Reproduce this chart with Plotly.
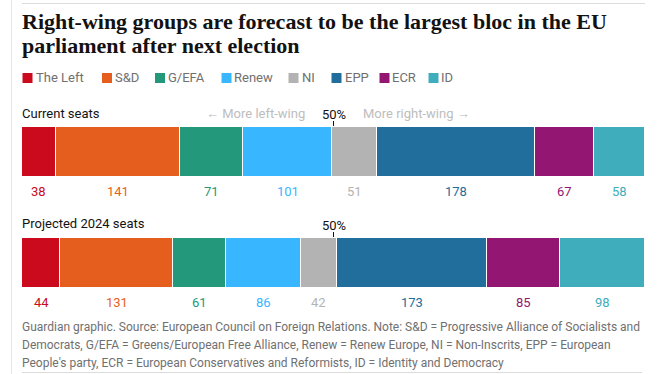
import plotly.graph_objects as go

groups = ["The Left", "S&D", "G/EFA", "Renew", "NI", "EPP", "ECR", "ID"]
colors = ["#cc0a1e", "#e65e1d", "#24987a", "#38b6ff", "#b3b3b3", "#216e9d", "#921672", "#3fadbb"]
current_seats = [38, 141, 71, 101, 51, 178, 67, 58]
projected_seats = [44, 131, 61, 86, 42, 173, 85, 98]
row_titles = ["Current seats", "Projected 2024 seats"]
title_lines = ["Right-wing groups are forecast to be the largest bloc in the EU",
               "parliament after next election"]
footer_lines = [
    "Guardian graphic. Source: European Council on Foreign Relations. Note: S&D = Progressive Alliance of Socialists and",
    "Democrats, G/EFA = Greens/European Free Alliance, Renew = Renew Europe, NI = Non-Inscrits, EPP = European",
    "People's party, ECR = European Conservatives and Reformists, ID = Identity and Democracy",
]

W, H = 668, 374
def py(p):  # pixel y -> paper
    return 1 - p / H
def px(p):
    return p / W

SANS = "Roboto, sans-serif"
fig = go.Figure()

rows = [current_seats, projected_seats]
bar_tops = [127, 238]
bar_h = 50
for r, vals in enumerate(rows):
    ax = "" if r == 0 else str(r + 1)
    for g, v, c in zip(groups, vals, colors):
        fig.add_trace(go.Bar(
            x=[v], y=[0], orientation="h", name=g,
            marker=dict(color=c, line=dict(color="white", width=1.2)),
            width=1, xaxis="x" + ax, yaxis="y" + ax, showlegend=False,
            hoverinfo="name+x",
        ))
    total = sum(vals)
    top = bar_tops[r]
    fig.layout["xaxis" + ax] = dict(range=[0, total], domain=[px(22), px(645)], visible=False,
                                    anchor="y" + ax, fixedrange=True)
    fig.layout["yaxis" + ax] = dict(range=[-0.5, 0.5], domain=[py(top + bar_h), py(top)], visible=False,
                                    anchor="x" + ax, fixedrange=True)
    cum = 0
    for v, c in zip(vals, colors):
        fig.add_annotation(x=cum + v / 2, xref="x" + ax, y=py(top + bar_h + 14.5), yref="paper",
                           text=str(v), showarrow=False, font=dict(family=SANS, size=13, color=c),
                           xanchor="center", yanchor="middle")
        cum += v
    fig.add_shape(type="line", x0=total / 2, x1=total / 2, xref="x" + ax,
                  y0=py(top - 6), y1=py(top - 1), yref="paper", line=dict(color="#121212", width=1))
    fig.add_annotation(x=total / 2, xref="x" + ax, y=py(top - 13), yref="paper", text="50%",
                       showarrow=False, font=dict(family=SANS, size=13, color="#121212"),
                       xanchor="center", yanchor="middle")
    fig.add_annotation(x=px(22), xref="paper", y=py(top - 14), yref="paper", text=row_titles[r],
                       showarrow=False, font=dict(family=SANS, size=13, color="#121212"),
                       xanchor="left", yanchor="middle", xshift=-2)

half = sum(current_seats) / 2
fig.add_annotation(x=half, xref="x", y=py(113), yref="paper",
                   text="\u2190 More left-wing", xshift=-27, showarrow=False,
                   font=dict(family=SANS, size=13, color="#bdbdbd"), xanchor="right", yanchor="middle")
fig.add_annotation(x=half, xref="x", y=py(113), yref="paper",
                   text="More right-wing \u2192", xshift=27, showarrow=False,
                   font=dict(family=SANS, size=13, color="#bdbdbd"), xanchor="left", yanchor="middle")

# title
for t, yy in zip(title_lines, [21, 45]):
    fig.add_annotation(x=px(22), xref="paper", y=py(yy), yref="paper", text="<b>" + t + "</b>",
                       showarrow=False, align="left", xanchor="left", yanchor="middle", xshift=-2,
                       font=dict(family="Liberation Serif, serif", size=22, color="#121212"))

# legend (manual)
leg_x = [22.5, 102, 155, 221.5, 288.5, 331.5, 379.5, 428.5]
for g, c, lx in zip(groups, colors, leg_x):
    fig.add_shape(type="rect", xref="paper", yref="paper", x0=px(lx), x1=px(lx + 10),
                  y0=py(83), y1=py(73), fillcolor=c, line=dict(width=0))
    fig.add_annotation(x=px(lx + 13), xref="paper", y=py(78), yref="paper", text=g, showarrow=False,
                       xanchor="left", yanchor="middle", xshift=-2,
                       font=dict(family=SANS, size=13, color="#707070"))

# footer
for t, yy in zip(footer_lines, [327, 345, 363]):
    fig.add_annotation(x=px(22), xref="paper", y=py(yy), yref="paper", text=t,
                       showarrow=False, align="left", xanchor="left", yanchor="middle", xshift=-2,
                       font=dict(family=SANS, size=12, color="#707070"))

# rules
fig.add_shape(type="line", xref="paper", yref="paper", x0=px(22), x1=px(645), y0=py(3.5), y1=py(3.5),
              line=dict(color="#dcdcdc", width=1))
fig.add_shape(type="line", xref="paper", yref="paper", x0=px(22), x1=px(642), y0=py(372.5), y1=py(372.5),
              line=dict(color="#dcdcdc", width=1))
fig.add_shape(type="line", xref="paper", yref="paper", x0=px(11.5), x1=px(11.5), y0=0, y1=1,
              line=dict(color="#e6e6e6", width=1))

fig.update_layout(width=W, height=H, margin=dict(l=0, r=0, t=0, b=0), barmode="stack",
                  paper_bgcolor="white", plot_bgcolor="white", bargap=0)
fig.write_html("out.html", config={"displayModeBar": False},
               post_script="document.body.style.margin='0';document.body.style.overflow='hidden';")
